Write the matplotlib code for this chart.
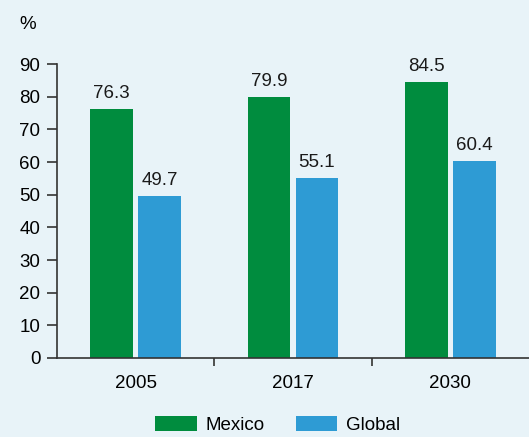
import matplotlib.pyplot as plt
import numpy as np

years = ['2005', '2017', '2030']
mexico = [76.3, 79.9, 84.5]
global_vals = [49.7, 55.1, 60.4]

plt.rcParams['font.family'] = ['Liberation Sans', 'DejaVu Sans']

bg = '#e8f3f8'
green = '#008c3e'
blue = '#2e9bd4'
fs = 13.5

fig = plt.figure(figsize=(5.29, 4.37), dpi=100, facecolor=bg)
ax = fig.add_axes([0.1078, 0.1808, 0.8922, 0.6727], facecolor=bg)

x = np.arange(len(years)) + 0.5
w = 0.273
off = w / 2 + 0.016
b1 = ax.bar(x - off, mexico, w, color=green, label='Mexico')
b2 = ax.bar(x + off, global_vals, w, color=blue, label='Global')

for bars in (b1, b2):
    for r in bars:
        ax.text(r.get_x() + r.get_width() / 2, r.get_height() + 2.0,
                f'{r.get_height():.1f}', ha='center', va='bottom', fontsize=fs, color='#1a1a1a')

ax.set_xlim(0, 3)
ax.set_ylim(0, 90)
ax.set_yticks(range(0, 91, 10))
ax.set_xticks([1, 2])
ax.set_xticklabels([])
ax.set_xticks(x, minor=True)
ax.set_xticklabels(years, minor=True)
ax.tick_params(axis='x', which='minor', length=0, pad=12, labelsize=fs)
ax.tick_params(axis='x', which='major', length=6, width=1.2, color='#333333')
ax.tick_params(axis='y', length=7, width=1.2, color='#333333', labelsize=fs, pad=5)

for s in ['top', 'right']:
    ax.spines[s].set_visible(False)
for s in ['left', 'bottom']:
    ax.spines[s].set_color('#333333')
    ax.spines[s].set_linewidth(1.2)

fig.text(0.036, 0.945, '%', fontsize=fs, ha='left', va='center')

fig.legend(handles=[b1, b2], loc='center', bbox_to_anchor=(0.525, 0.027), ncol=2,
           frameon=False, fontsize=fs, handlelength=2.2, handleheight=0.85,
           columnspacing=1.7, handletextpad=0.45)

fig.savefig('out.png', dpi=100, facecolor=bg)
